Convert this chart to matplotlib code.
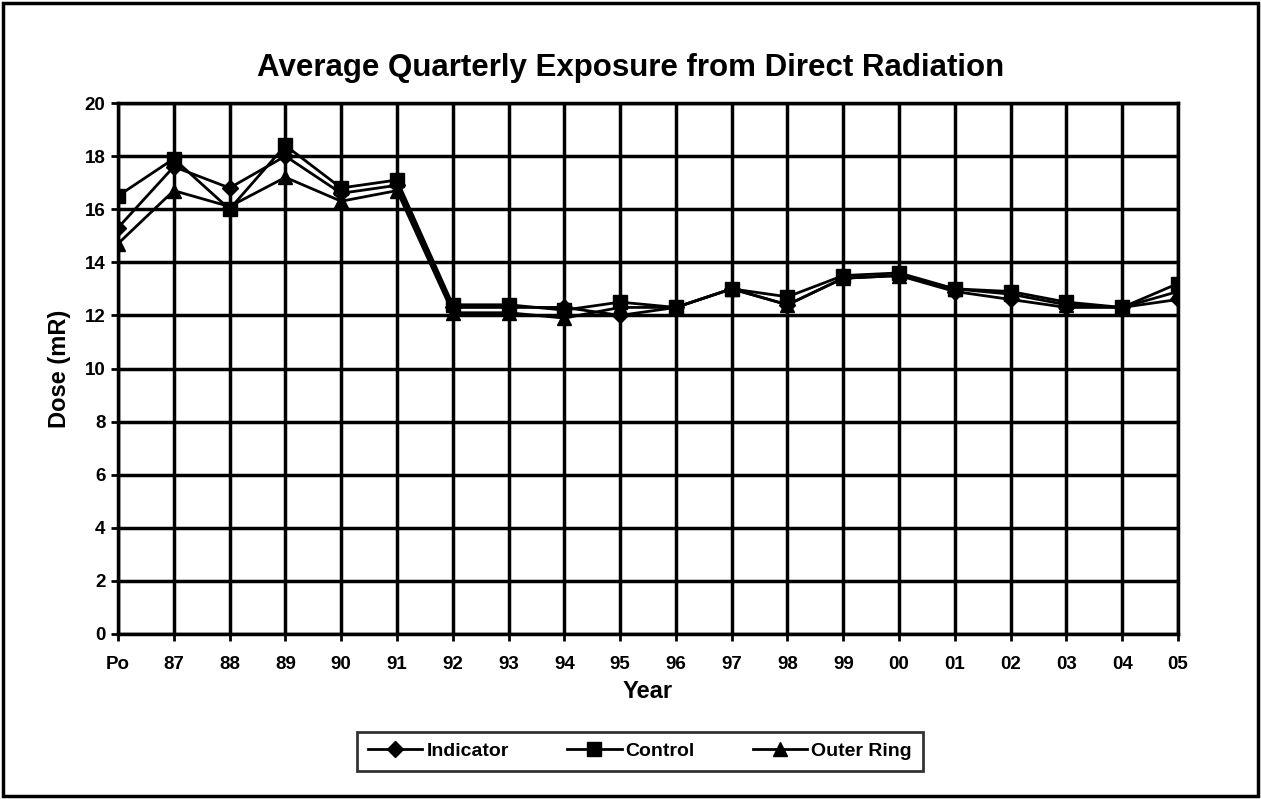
import matplotlib
matplotlib.use("Agg")
import matplotlib.pyplot as plt
from matplotlib.patches import Rectangle

years = ["Po", "87", "88", "89", "90", "91", "92", "93", "94", "95",
         "96", "97", "98", "99", "00", "01", "02", "03", "04", "05"]
indicator = [15.3, 17.6, 16.8, 18.0, 16.6, 16.9, 12.3, 12.3, 12.3, 12.0,
             12.3, 13.0, 12.4, 13.4, 13.5, 12.9, 12.6, 12.3, 12.3, 12.6]
control = [16.5, 17.9, 16.0, 18.4, 16.8, 17.1, 12.4, 12.4, 12.2, 12.5,
           12.3, 13.0, 12.7, 13.5, 13.6, 13.0, 12.9, 12.5, 12.3, 13.2]
outer_ring = [14.7, 16.7, 16.1, 17.2, 16.3, 16.7, 12.1, 12.1, 11.9, 12.3,
              12.3, 13.0, 12.4, 13.4, 13.5, 13.0, 12.8, 12.4, 12.3, 12.9]
yticks = list(range(0, 21, 2))

plt.rcParams['font.family'] = ['Liberation Sans', 'DejaVu Sans']

fig = plt.figure(figsize=(12.61, 7.99), dpi=100)
ax = fig.add_axes([118/1261, 1-634/799, (1178-118)/1261, (634-103)/799])

x = list(range(len(years)))
ax.plot(x, indicator, color='black', lw=2, marker='D', ms=8, mfc='black', mec='black', label='Indicator')
ax.plot(x, control, color='black', lw=2, marker='s', ms=10, mfc='black', mec='black', label='Control')
ax.plot(x, outer_ring, color='black', lw=2, marker='^', ms=10, mfc='black', mec='black', label='Outer Ring')

ax.set_xlim(0, len(years)-1)
ax.set_ylim(0, 20)
ax.set_xticks(x)
ax.set_xticklabels(years)
ax.set_yticks(yticks)
ax.grid(True, color='black', lw=2.5)
ax.set_axisbelow(True)
for s in ax.spines.values():
    s.set_linewidth(2.5)
ax.tick_params(axis='both', labelsize=13.5, width=2, length=5, direction='out')
ax.tick_params(axis='x', pad=11)
ax.tick_params(axis='y', pad=4)
for lbl in ax.get_xticklabels() + ax.get_yticklabels():
    lbl.set_fontweight('bold')
ax.set_xlabel('Year', fontsize=17, fontweight='bold', labelpad=5)
ax.set_ylabel('Dose (mR)', fontsize=17, fontweight='bold', labelpad=10)
fig.text(0.5, 1-68/799, 'Average Quarterly Exposure from Direct Radiation',
         ha='center', va='center', fontsize=22.5, fontweight='bold')

leg = ax.legend(loc='center', bbox_to_anchor=((640-118)/1060, (634-751)/531), ncol=3,
                frameon=True, fancybox=False, edgecolor='black',
                prop={'weight': 'bold', 'size': 14}, handlelength=2.8,
                handletextpad=0.2, columnspacing=3.0, borderpad=0.55)
leg.get_frame().set_linewidth(2)

fig.patches.append(Rectangle((3/1261, 3/799), 1255/1261, 793/799, transform=fig.transFigure,
                             fill=False, edgecolor='black', lw=2.5))

fig.savefig('out.png', dpi=100, facecolor='white')
